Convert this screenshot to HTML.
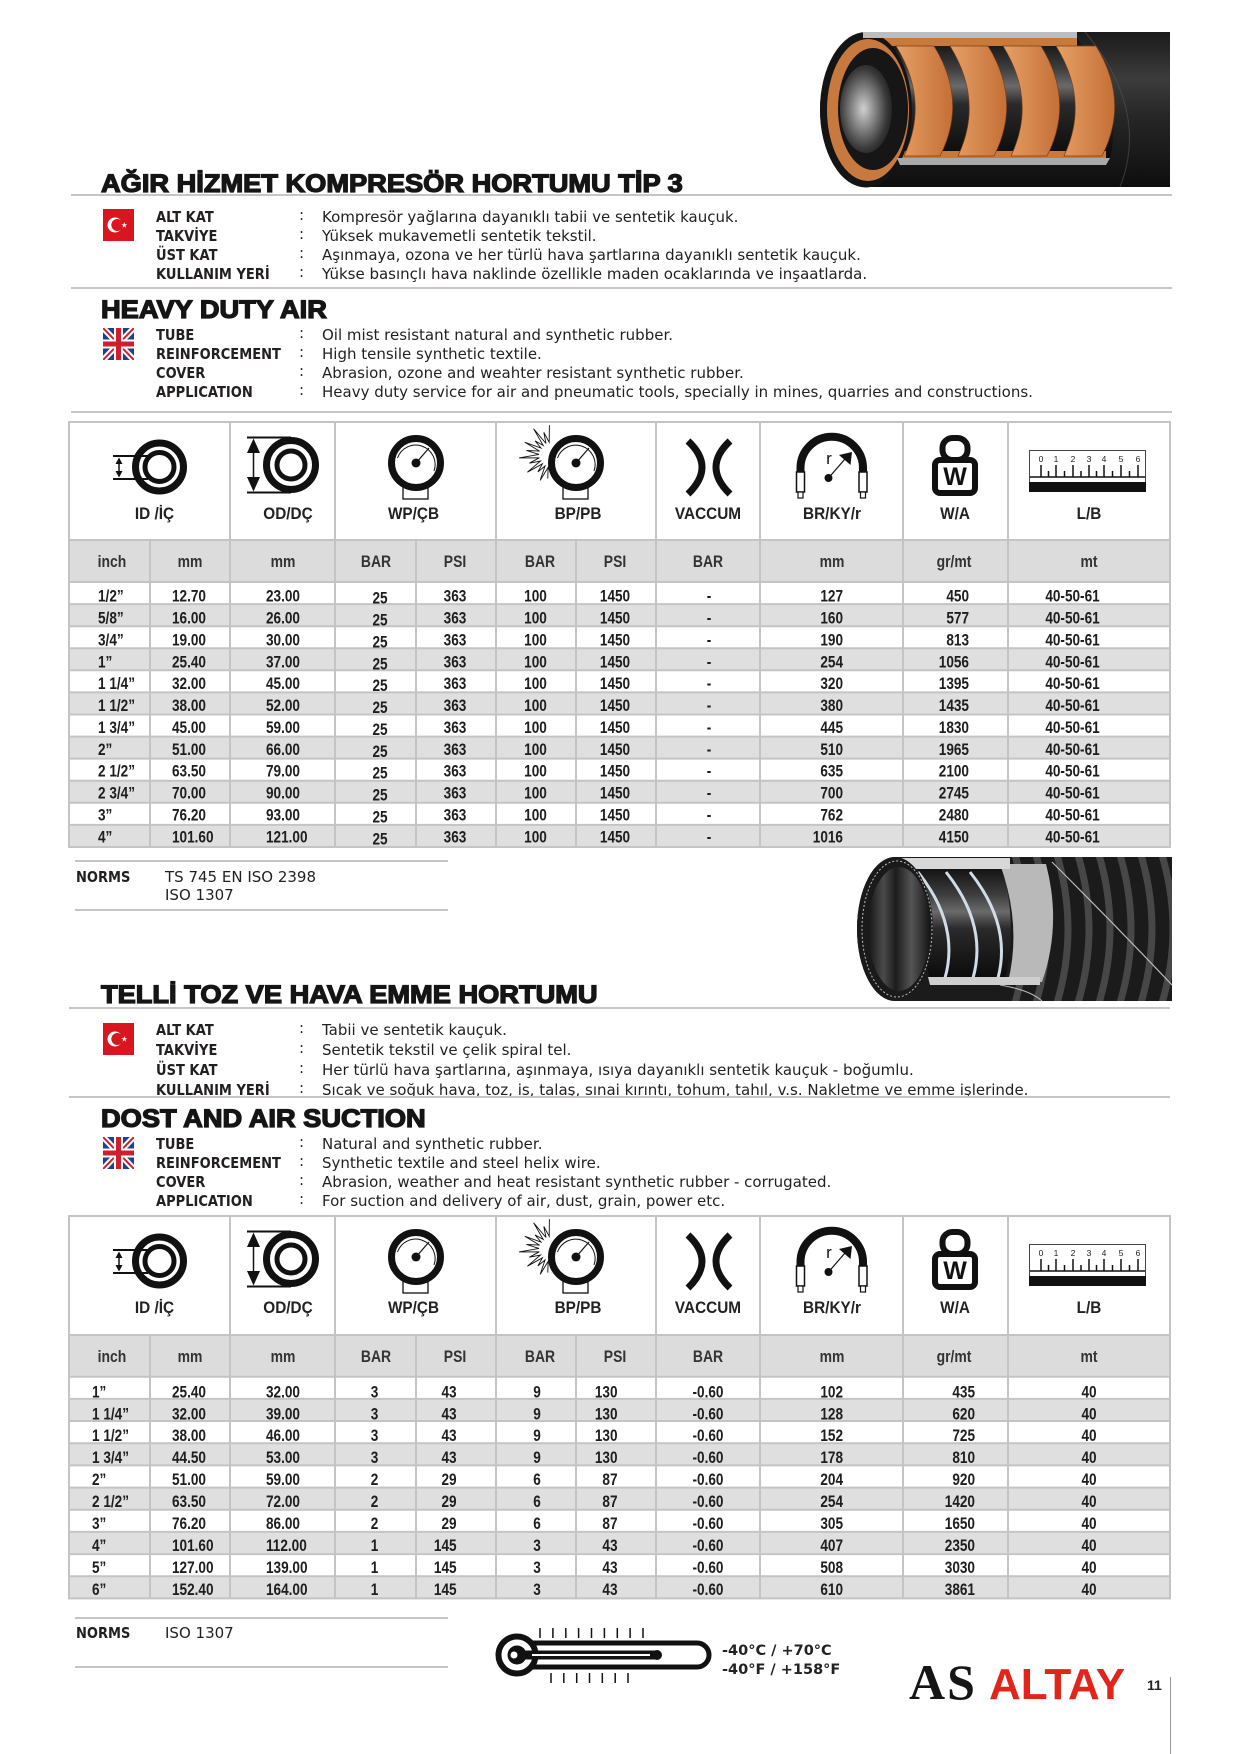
<!DOCTYPE html>
<html><head><meta charset="utf-8">
<style>
html,body{margin:0;padding:0;background:#fff}
svg{display:block}
.t{font-family:"Liberation Sans",Arial,sans-serif;font-weight:700;font-size:25px;fill:#151515;stroke:#151515;stroke-width:1.3px}
.l{font-family:"DejaVu Sans",sans-serif;font-weight:700;font-size:15px;fill:#231f20}
.b{font-family:"DejaVu Sans",sans-serif;font-size:15px;fill:#231f20}
.d{font-family:"Liberation Sans",Arial,sans-serif;font-weight:700;font-size:17px;fill:#1e1e1e}
.h{font-family:"Liberation Sans",Arial,sans-serif;font-weight:700;font-size:17px;fill:#333}
.i{font-family:"Liberation Sans",Arial,sans-serif;font-weight:700;font-size:16.5px;fill:#222}
.tm{font-family:"DejaVu Sans",sans-serif;font-weight:700;font-size:14.5px;fill:#222}
</style></head>
<body>
<svg width="1240" height="1754" viewBox="0 0 1240 1754" xmlns="http://www.w3.org/2000/svg">
<defs>
<linearGradient id="hb" x1="0" y1="0" x2="0" y2="1"><stop offset="0" stop-color="#1a1a1a"/><stop offset=".3" stop-color="#3c3c3c"/><stop offset=".55" stop-color="#262626"/><stop offset="1" stop-color="#0e0e0e"/></linearGradient>
<linearGradient id="tb" x1="0" y1="0" x2="0" y2="1"><stop offset="0" stop-color="#0e0e0e"/><stop offset=".25" stop-color="#3d3d3d"/><stop offset=".4" stop-color="#6a6a6a"/><stop offset=".55" stop-color="#2a2a2a"/><stop offset="1" stop-color="#0a0a0a"/></linearGradient>
<linearGradient id="or" x1="0" y1="0" x2="1" y2="0"><stop offset="0" stop-color="#e6a066"/><stop offset="1" stop-color="#c46f36"/></linearGradient>
<radialGradient id="bore" cx=".45" cy=".5" r=".6"><stop offset="0" stop-color="#d0d0d0"/><stop offset=".35" stop-color="#8a8a8a"/><stop offset=".75" stop-color="#3a3a3a"/><stop offset="1" stop-color="#1a1a1a"/></radialGradient>
<linearGradient id="bore2" x1="0" y1="0" x2="1" y2="0"><stop offset="0" stop-color="#151515"/><stop offset=".25" stop-color="#4a4a4a"/><stop offset=".45" stop-color="#1c1c1c"/><stop offset=".7" stop-color="#555"/><stop offset="1" stop-color="#151515"/></linearGradient>
<clipPath id="ukc"><rect x="103" y="328" width="31" height="32"/></clipPath>
<clipPath id="h2c"><path d="M895 857 H1172 V1001 H895 A38 72 0 0 1 895 857 Z"/></clipPath>
<g id="trf">
<rect x="103" y="209" width="31" height="32" fill="#d9161f"/>
<circle cx="115" cy="225" r="7.5" fill="#fff"/>
<circle cx="117.3" cy="225" r="6" fill="#d9161f"/>
<polygon points="124.3,222 125,224.2 127.2,224.2 125.4,225.5 126.1,227.7 124.3,226.3 122.5,227.7 123.2,225.5 121.4,224.2 123.6,224.2" fill="#fff"/>
</g>
<g id="ukf">
<rect x="103" y="328" width="31" height="32" fill="#213f8c"/>
<g clip-path="url(#ukc)">
<path d="M103 328 L134 360 M134 328 L103 360" stroke="#fff" stroke-width="6"/>
<path d="M103 328 L134 360 M134 328 L103 360" stroke="#cf1f2e" stroke-width="2"/>
<path d="M118.5 328 V360 M103 344 H134" stroke="#fff" stroke-width="9"/>
<path d="M118.5 328 V360 M103 344 H134" stroke="#cf1f2e" stroke-width="5"/>
</g>
</g>
<g id="icons">
<g fill="none" stroke="#111">
<circle cx="159.5" cy="467" r="24" stroke-width="7"/>
<circle cx="159.5" cy="467" r="14.5" stroke-width="5"/>
<line x1="113" y1="456" x2="148" y2="456" stroke-width="2"/>
<line x1="113" y1="479" x2="148" y2="479" stroke-width="2"/>
<line x1="119" y1="459" x2="119" y2="476" stroke-width="1.5"/>
</g>
<polygon points="115.5,464 122.5,464 119,457.5" fill="#111"/>
<polygon points="115.5,471 122.5,471 119,477.5" fill="#111"/>
<g fill="none" stroke="#111">
<circle cx="291" cy="465" r="24.5" stroke-width="7"/>
<circle cx="291" cy="465" r="14" stroke-width="5"/>
<line x1="247" y1="437.5" x2="291" y2="437.5" stroke-width="2"/>
<line x1="247" y1="492.5" x2="291" y2="492.5" stroke-width="2"/>
<line x1="253.5" y1="445" x2="253.5" y2="485" stroke-width="1.5"/>
</g>
<polygon points="247,453 260,453 253.5,438.5" fill="#111"/>
<polygon points="247,477 260,477 253.5,491.5" fill="#111"/>
<rect x="403" y="484" width="25" height="15" fill="#fff" stroke="#111" stroke-width="1.3"/>
<circle cx="416" cy="463" r="24.5" fill="#fff" stroke="#111" stroke-width="7"/>
<path d="M397.5 458 A19 19 0 1 1 434 471" fill="none" stroke="#111" stroke-width="1"/>
<line x1="416" y1="463" x2="429" y2="448" stroke="#111" stroke-width="1.2"/>
<circle cx="416" cy="463" r="4.5" fill="#111"/>
<polyline points="549.4,425.1 549.2,442.3 543.8,432.4 546,443.5 533.6,428.8 543.2,445.4 535.1,440.9 541,448 524.8,442.3 539.6,451.1 526.4,450.5 539,454.4 519.1,457.9 539.3,457.8 529.4,463.2 540.5,461 527.4,472.2 542.4,463.8 537.9,471.9 545,466 540.2,480.4 548.1,467.4 547.8,478.6" fill="#fff" stroke="#111" stroke-width=".9"/>
<rect x="563" y="484" width="25" height="15" fill="#fff" stroke="#111" stroke-width="1.3"/>
<circle cx="576" cy="463" r="24.5" fill="#fff" stroke="#111" stroke-width="7"/>
<path d="M557.5 458 A19 19 0 1 1 594 471" fill="none" stroke="#111" stroke-width="1"/>
<line x1="576" y1="463" x2="589" y2="448" stroke="#111" stroke-width="1.2"/>
<circle cx="576" cy="463" r="4.5" fill="#111"/>
<path d="M688 441 Q716 467 688 494 M730 441 Q702 467 730 494" fill="none" stroke="#111" stroke-width="7"/>
<path d="M800.5 473 V468 A31.25 31.25 0 0 1 863 468 V473" fill="none" stroke="#111" stroke-width="8"/>
<rect x="796.5" y="472" width="8" height="20" fill="#fff" stroke="#111" stroke-width="1.5"/>
<rect x="859" y="472" width="8" height="20" fill="#fff" stroke="#111" stroke-width="1.5"/>
<rect x="798" y="492" width="5" height="6" fill="#fff" stroke="#111" stroke-width="1.2"/>
<rect x="860.5" y="492" width="5" height="6" fill="#fff" stroke="#111" stroke-width="1.2"/>
<circle cx="828.5" cy="478" r="4" fill="#111"/>
<line x1="828.5" y1="478" x2="845" y2="459" stroke="#111" stroke-width="1.2"/>
<polygon points="839,455 852,452 850.5,465" fill="#111"/>
<rect x="942.5" y="438" width="25" height="22" rx="10" fill="#fff" stroke="#111" stroke-width="6"/>
<rect x="935" y="460" width="40" height="33" rx="5" fill="#fff" stroke="#111" stroke-width="6"/>
<rect x="1029.5" y="450.5" width="116" height="41" fill="#fff" stroke="#444" stroke-width="1"/>
<g stroke="#111" stroke-width="1.5">
<line x1="1041" y1="465" x2="1041" y2="477"/><line x1="1048.5" y1="471" x2="1048.5" y2="477"/>
<line x1="1056" y1="465" x2="1056" y2="477"/><line x1="1064.5" y1="471" x2="1064.5" y2="477"/>
<line x1="1073" y1="465" x2="1073" y2="477"/><line x1="1081" y1="471" x2="1081" y2="477"/>
<line x1="1089" y1="465" x2="1089" y2="477"/><line x1="1096.5" y1="471" x2="1096.5" y2="477"/>
<line x1="1104" y1="465" x2="1104" y2="477"/><line x1="1112.5" y1="471" x2="1112.5" y2="477"/>
<line x1="1121" y1="465" x2="1121" y2="477"/><line x1="1129.5" y1="471" x2="1129.5" y2="477"/>
<line x1="1138" y1="465" x2="1138" y2="477"/>
<line x1="1030" y1="477" x2="1145" y2="477"/>
</g>
<rect x="1029" y="482" width="117" height="10" fill="#111"/>
</g>
</defs>

<!-- HOSE 1 -->
<path d="M866 32 H1170 V187 H866 A46 77.5 0 0 1 866 32 Z" fill="url(#hb)"/>
<path d="M1085 32 Q1150 110 1120 187" fill="none" stroke="#555" stroke-width="1" opacity=".6"/>
<path d="M866 38 L1077 38 Q1125 100 1110 158 L880 158 Z" fill="url(#tb)"/>
<rect x="866" y="38" width="211" height="8" fill="#c8793c"/>
<rect x="880" y="151" width="226" height="7" fill="#c8793c"/>
<ellipse cx="866" cy="110" rx="46" ry="77.5" fill="#141414"/>
<ellipse cx="868" cy="110" rx="41" ry="71" fill="#c87a3e"/>
<ellipse cx="873" cy="109" rx="35" ry="61" fill="#161616"/>
<ellipse cx="866" cy="109" rx="26" ry="44" fill="url(#bore)"/>
<g fill="url(#or)" stroke="#7a3e18" stroke-width=".7">
<path d="M896 46 Q930 101 904 156 L940 156 Q968 101 934 46 Z"/>
<path d="M950 46 Q984 101 958 156 L994 156 Q1022 101 988 46 Z"/>
<path d="M1003 46 Q1037 101 1011 156 L1047 156 Q1075 101 1041 46 Z"/>
<path d="M1056 46 Q1090 101 1064 156 L1102 156 Q1130 101 1096 46 Z"/>
</g>
<rect x="863" y="32" width="214" height="6" fill="#bdbdbd"/>
<polygon points="897,158 1110,158 1106,165 900,165" fill="#a9a9a9"/>

<!-- HOSE 2 -->
<path d="M895 857 H1172 V1001 H895 A38 72 0 0 1 895 857 Z" fill="#1b1b1b"/>
<g clip-path="url(#h2c)" fill="none" stroke="#4f4f4f" stroke-width="7" opacity=".85">
<path d="M1015 855 Q1037 929 1015 1003"/><path d="M1036 855 Q1058 929 1036 1003"/>
<path d="M1057 855 Q1079 929 1057 1003"/><path d="M1078 855 Q1100 929 1078 1003"/>
<path d="M1099 855 Q1121 929 1099 1003"/><path d="M1120 855 Q1142 929 1120 1003"/>
<path d="M1141 855 Q1163 929 1141 1003"/><path d="M1162 855 Q1184 929 1162 1003"/>
</g>
<path d="M905 866 L1002 866 Q1018 925 1005 980 L930 980 Z" fill="url(#tb)"/>
<path d="M1000 864 L1046 864 Q1062 925 1042 982 L1008 982 Q1022 925 1000 864 Z" fill="#b9b9b9"/>
<g fill="none" stroke="#d0dde8" stroke-width="3">
<path d="M918 872 Q960 925 945 978"/><path d="M946 872 Q988 925 973 978"/><path d="M970 872 Q1012 925 998 978"/>
</g>
<polygon points="898,858 1010,858 1010,869 900,869" fill="#d8d8d8"/>
<polygon points="928,977 1040,977 1040,985 930,985" fill="#cfcfcf"/>
<ellipse cx="895" cy="929" rx="38" ry="72" fill="#1a1a1a"/>
<ellipse cx="899" cy="929" rx="31" ry="62" fill="url(#bore2)"/>
<ellipse cx="897" cy="929" rx="35" ry="68" fill="none" stroke="#bbb" stroke-width="1" stroke-dasharray="2 2"/>
<path d="M1052 862 Q1120 930 1172 985" fill="none" stroke="#bbb" stroke-width="1.2"/>
<path d="M1000 985 Q1030 990 1042 1001" fill="none" stroke="#bbb" stroke-width="1"/>

<!-- SECTION 1 TEXT -->
<g transform="translate(101,192) scale(1.09,1)"><text class="t" x="0" y="0">AĞIR HİZMET KOMPRESÖR HORTUMU TİP 3</text></g>
<use href="#trf"/>
<g transform="translate(156,0) scale(.87,1)"><text class="l"><tspan x="0" y="222">ALT KAT</tspan><tspan x="0" y="241">TAKVİYE</tspan><tspan x="0" y="260">ÜST KAT</tspan><tspan x="0" y="279">KULLANIM YERİ</tspan></text></g>
<text class="b"><tspan x="299" y="220">:</tspan><tspan x="299" y="239">:</tspan><tspan x="299" y="258">:</tspan><tspan x="299" y="277">:</tspan></text>
<text class="b"><tspan x="322" y="222">Kompresör yağlarına dayanıklı tabii ve sentetik kauçuk.</tspan><tspan x="322" y="241">Yüksek mukavemetli sentetik tekstil.</tspan><tspan x="322" y="260">Aşınmaya, ozona ve her türlü hava şartlarına dayanıklı sentetik kauçuk.</tspan><tspan x="322" y="279">Yükse basınçlı hava naklinde özellikle maden ocaklarında ve inşaatlarda.</tspan></text>

<g transform="translate(101,318) scale(1.09,1)"><text class="t" x="0" y="0">HEAVY DUTY AIR</text></g>
<use href="#ukf"/>
<g transform="translate(156,0) scale(.87,1)"><text class="l"><tspan x="0" y="340">TUBE</tspan><tspan x="0" y="359">REINFORCEMENT</tspan><tspan x="0" y="378">COVER</tspan><tspan x="0" y="397">APPLICATION</tspan></text></g>
<text class="b"><tspan x="299" y="338">:</tspan><tspan x="299" y="357">:</tspan><tspan x="299" y="376">:</tspan><tspan x="299" y="395">:</tspan></text>
<text class="b"><tspan x="322" y="340">Oil mist resistant natural and synthetic rubber.</tspan><tspan x="322" y="359">High tensile synthetic textile.</tspan><tspan x="322" y="378">Abrasion, ozone and weahter resistant synthetic rubber.</tspan><tspan x="322" y="397">Heavy duty service for air and pneumatic tools, specially in mines, quarries and constructions.</tspan></text>

<g stroke="#c6c6c6" stroke-width="2">
<line x1="71" y1="195" x2="1172" y2="195"/>
<line x1="71" y1="288" x2="1172" y2="288"/>
<line x1="71" y1="412" x2="1172" y2="412"/>
<line x1="75" y1="861" x2="448" y2="861"/>
<line x1="75" y1="910" x2="448" y2="910"/>
</g>

<!-- TABLE 1 -->
<rect x="69" y="540" width="1101" height="42" fill="#dcdcdc"/>
<g fill="#dfdfdf">
<rect x="69" y="604.1" width="1101" height="22.1"/><rect x="69" y="648.2" width="1101" height="22.1"/>
<rect x="69" y="692.4" width="1101" height="22.1"/><rect x="69" y="736.6" width="1101" height="22"/>
<rect x="69" y="780.7" width="1101" height="22.1"/><rect x="69" y="824.9" width="1101" height="22.1"/>
</g>
<g stroke="#c4c4c4" stroke-width="2">
<line x1="69" y1="540" x2="1170" y2="540"/><line x1="69" y1="582" x2="1170" y2="582"/>
<line x1="69" y1="604.1" x2="1170" y2="604.1"/><line x1="69" y1="626.2" x2="1170" y2="626.2"/>
<line x1="69" y1="648.2" x2="1170" y2="648.2"/><line x1="69" y1="670.3" x2="1170" y2="670.3"/>
<line x1="69" y1="692.4" x2="1170" y2="692.4"/><line x1="69" y1="714.5" x2="1170" y2="714.5"/>
<line x1="69" y1="736.6" x2="1170" y2="736.6"/><line x1="69" y1="758.6" x2="1170" y2="758.6"/>
<line x1="69" y1="780.7" x2="1170" y2="780.7"/><line x1="69" y1="802.8" x2="1170" y2="802.8"/>
<line x1="69" y1="824.9" x2="1170" y2="824.9"/>
<line x1="230" y1="422" x2="230" y2="847"/><line x1="335" y1="422" x2="335" y2="847"/>
<line x1="496" y1="422" x2="496" y2="847"/><line x1="656" y1="422" x2="656" y2="847"/>
<line x1="760" y1="422" x2="760" y2="847"/><line x1="903" y1="422" x2="903" y2="847"/>
<line x1="1008" y1="422" x2="1008" y2="847"/>
<line x1="150" y1="540" x2="150" y2="847"/><line x1="416" y1="540" x2="416" y2="847"/>
<line x1="576" y1="540" x2="576" y2="847"/>
<rect x="69" y="422" width="1101" height="425" fill="none"/>
</g>
<use href="#icons"/>
<text x="955" y="485" text-anchor="middle" font-family="Liberation Sans, Arial, sans-serif" font-weight="700" font-size="25" fill="#111">W</text>
<text x="829" y="464" text-anchor="middle" font-family="Liberation Sans, Arial, sans-serif" font-size="17" fill="#111">r</text>
<g font-family="Liberation Sans, Arial, sans-serif" font-size="8.5" fill="#222" text-anchor="middle">
<text x="1041" y="462">0</text><text x="1056" y="462">1</text><text x="1073" y="462">2</text><text x="1089" y="462">3</text><text x="1104" y="462">4</text><text x="1121" y="462">5</text><text x="1138" y="462">6</text>
</g>
<g class="i" text-anchor="middle">
<text transform="translate(154.5,519) scale(.93,1)">ID /İÇ</text>
<text transform="translate(288,519) scale(.93,1)">OD/DÇ</text>
<text transform="translate(413.5,519) scale(.93,1)">WP/ÇB</text>
<text transform="translate(578,519) scale(.93,1)">BP/PB</text>
<text transform="translate(708,519) scale(.93,1)">VACCUM</text>
<text transform="translate(832,519) scale(.93,1)">BR/KY/r</text>
<text transform="translate(955,519) scale(.93,1)">W/A</text>
<text transform="translate(1089,519) scale(.93,1)">L/B</text>
</g>
<g class="h" text-anchor="middle">
<text transform="translate(112,567) scale(.82,1)">inch</text>
<text transform="translate(190,567) scale(.82,1)">mm</text>
<text transform="translate(283,567) scale(.82,1)">mm</text>
<text transform="translate(376,567) scale(.82,1)">BAR</text>
<text transform="translate(455,567) scale(.82,1)">PSI</text>
<text transform="translate(540,567) scale(.82,1)">BAR</text>
<text transform="translate(615,567) scale(.82,1)">PSI</text>
<text transform="translate(708,567) scale(.82,1)">BAR</text>
<text transform="translate(832,567) scale(.82,1)">mm</text>
<text transform="translate(954,567) scale(.82,1)">gr/mt</text>
<text transform="translate(1089,567) scale(.82,1)">mt</text>
</g>
<g class="d">
<text transform="translate(98,0) scale(.8,1)"><tspan x="0" y="601.7">1/2”</tspan><tspan x="0" y="623.6">5/8”</tspan><tspan x="0" y="645.4">3/4”</tspan><tspan x="0" y="667.3">1”</tspan><tspan x="0" y="689.2">1 1/4”</tspan><tspan x="0" y="711.1">1 1/2”</tspan><tspan x="0" y="732.9">1 3/4”</tspan><tspan x="0" y="754.8">2”</tspan><tspan x="0" y="776.7">2 1/2”</tspan><tspan x="0" y="798.5">2 3/4”</tspan><tspan x="0" y="820.4">3”</tspan><tspan x="0" y="842.3">4”</tspan></text>
<text transform="translate(172,0) scale(.8,1)"><tspan x="0" y="601.7">12.70</tspan><tspan x="0" y="623.6">16.00</tspan><tspan x="0" y="645.4">19.00</tspan><tspan x="0" y="667.3">25.40</tspan><tspan x="0" y="689.2">32.00</tspan><tspan x="0" y="711.1">38.00</tspan><tspan x="0" y="732.9">45.00</tspan><tspan x="0" y="754.8">51.00</tspan><tspan x="0" y="776.7">63.50</tspan><tspan x="0" y="798.5">70.00</tspan><tspan x="0" y="820.4">76.20</tspan><tspan x="0" y="842.3">101.60</tspan></text>
<text transform="translate(266,0) scale(.8,1)"><tspan x="0" y="601.7">23.00</tspan><tspan x="0" y="623.6">26.00</tspan><tspan x="0" y="645.4">30.00</tspan><tspan x="0" y="667.3">37.00</tspan><tspan x="0" y="689.2">45.00</tspan><tspan x="0" y="711.1">52.00</tspan><tspan x="0" y="732.9">59.00</tspan><tspan x="0" y="754.8">66.00</tspan><tspan x="0" y="776.7">79.00</tspan><tspan x="0" y="798.5">90.00</tspan><tspan x="0" y="820.4">93.00</tspan><tspan x="0" y="842.3">121.00</tspan></text>
<text transform="translate(380,2) scale(.8,1)" text-anchor="middle"><tspan x="0" y="601.7">25</tspan><tspan x="0" y="623.6">25</tspan><tspan x="0" y="645.4">25</tspan><tspan x="0" y="667.3">25</tspan><tspan x="0" y="689.2">25</tspan><tspan x="0" y="711.1">25</tspan><tspan x="0" y="732.9">25</tspan><tspan x="0" y="754.8">25</tspan><tspan x="0" y="776.7">25</tspan><tspan x="0" y="798.5">25</tspan><tspan x="0" y="820.4">25</tspan><tspan x="0" y="842.3">25</tspan></text>
<text transform="translate(455,0) scale(.8,1)" text-anchor="middle"><tspan x="0" y="601.7">363</tspan><tspan x="0" y="623.6">363</tspan><tspan x="0" y="645.4">363</tspan><tspan x="0" y="667.3">363</tspan><tspan x="0" y="689.2">363</tspan><tspan x="0" y="711.1">363</tspan><tspan x="0" y="732.9">363</tspan><tspan x="0" y="754.8">363</tspan><tspan x="0" y="776.7">363</tspan><tspan x="0" y="798.5">363</tspan><tspan x="0" y="820.4">363</tspan><tspan x="0" y="842.3">363</tspan></text>
<text transform="translate(535.5,0) scale(.8,1)" text-anchor="middle"><tspan x="0" y="601.7">100</tspan><tspan x="0" y="623.6">100</tspan><tspan x="0" y="645.4">100</tspan><tspan x="0" y="667.3">100</tspan><tspan x="0" y="689.2">100</tspan><tspan x="0" y="711.1">100</tspan><tspan x="0" y="732.9">100</tspan><tspan x="0" y="754.8">100</tspan><tspan x="0" y="776.7">100</tspan><tspan x="0" y="798.5">100</tspan><tspan x="0" y="820.4">100</tspan><tspan x="0" y="842.3">100</tspan></text>
<text transform="translate(615,0) scale(.8,1)" text-anchor="middle"><tspan x="0" y="601.7">1450</tspan><tspan x="0" y="623.6">1450</tspan><tspan x="0" y="645.4">1450</tspan><tspan x="0" y="667.3">1450</tspan><tspan x="0" y="689.2">1450</tspan><tspan x="0" y="711.1">1450</tspan><tspan x="0" y="732.9">1450</tspan><tspan x="0" y="754.8">1450</tspan><tspan x="0" y="776.7">1450</tspan><tspan x="0" y="798.5">1450</tspan><tspan x="0" y="820.4">1450</tspan><tspan x="0" y="842.3">1450</tspan></text>
<text transform="translate(709,0) scale(.8,1)" text-anchor="middle"><tspan x="0" y="601.7">-</tspan><tspan x="0" y="623.6">-</tspan><tspan x="0" y="645.4">-</tspan><tspan x="0" y="667.3">-</tspan><tspan x="0" y="689.2">-</tspan><tspan x="0" y="711.1">-</tspan><tspan x="0" y="732.9">-</tspan><tspan x="0" y="754.8">-</tspan><tspan x="0" y="776.7">-</tspan><tspan x="0" y="798.5">-</tspan><tspan x="0" y="820.4">-</tspan><tspan x="0" y="842.3">-</tspan></text>
<text transform="translate(843,0) scale(.8,1)" text-anchor="end"><tspan x="0" y="601.7">127</tspan><tspan x="0" y="623.6">160</tspan><tspan x="0" y="645.4">190</tspan><tspan x="0" y="667.3">254</tspan><tspan x="0" y="689.2">320</tspan><tspan x="0" y="711.1">380</tspan><tspan x="0" y="732.9">445</tspan><tspan x="0" y="754.8">510</tspan><tspan x="0" y="776.7">635</tspan><tspan x="0" y="798.5">700</tspan><tspan x="0" y="820.4">762</tspan><tspan x="0" y="842.3">1016</tspan></text>
<text transform="translate(969,0) scale(.8,1)" text-anchor="end"><tspan x="0" y="601.7">450</tspan><tspan x="0" y="623.6">577</tspan><tspan x="0" y="645.4">813</tspan><tspan x="0" y="667.3">1056</tspan><tspan x="0" y="689.2">1395</tspan><tspan x="0" y="711.1">1435</tspan><tspan x="0" y="732.9">1830</tspan><tspan x="0" y="754.8">1965</tspan><tspan x="0" y="776.7">2100</tspan><tspan x="0" y="798.5">2745</tspan><tspan x="0" y="820.4">2480</tspan><tspan x="0" y="842.3">4150</tspan></text>
<text transform="translate(1072.5,0) scale(.8,1)" text-anchor="middle"><tspan x="0" y="601.7">40-50-61</tspan><tspan x="0" y="623.6">40-50-61</tspan><tspan x="0" y="645.4">40-50-61</tspan><tspan x="0" y="667.3">40-50-61</tspan><tspan x="0" y="689.2">40-50-61</tspan><tspan x="0" y="711.1">40-50-61</tspan><tspan x="0" y="732.9">40-50-61</tspan><tspan x="0" y="754.8">40-50-61</tspan><tspan x="0" y="776.7">40-50-61</tspan><tspan x="0" y="798.5">40-50-61</tspan><tspan x="0" y="820.4">40-50-61</tspan><tspan x="0" y="842.3">40-50-61</tspan></text>
</g>

<g transform="translate(76,882) scale(.87,1)"><text class="l" x="0" y="0">NORMS</text></g>
<text class="b"><tspan x="165" y="882">TS 745 EN ISO 2398</tspan><tspan x="165" y="900">ISO 1307</tspan></text>

<!-- SECTION 2 TEXT -->
<g transform="translate(101,1003) scale(1.09,1)"><text class="t" x="0" y="0">TELLİ TOZ VE HAVA EMME HORTUMU</text></g>
<use href="#trf" transform="translate(0,814)"/>
<g transform="translate(156,0) scale(.87,1)"><text class="l"><tspan x="0" y="1035">ALT KAT</tspan><tspan x="0" y="1055">TAKVİYE</tspan><tspan x="0" y="1075">ÜST KAT</tspan><tspan x="0" y="1095">KULLANIM YERİ</tspan></text></g>
<text class="b"><tspan x="299" y="1033">:</tspan><tspan x="299" y="1053">:</tspan><tspan x="299" y="1073">:</tspan><tspan x="299" y="1093">:</tspan></text>
<text class="b"><tspan x="322" y="1035">Tabii ve sentetik kauçuk.</tspan><tspan x="322" y="1055">Sentetik tekstil ve çelik spiral tel.</tspan><tspan x="322" y="1075">Her türlü hava şartlarına, aşınmaya, ısıya dayanıklı sentetik kauçuk - boğumlu.</tspan><tspan x="322" y="1095">Sıcak ve soğuk hava, toz, is, talaş, sınai kırıntı, tohum, tahıl, v.s. Nakletme ve emme işlerinde.</tspan></text>

<g transform="translate(101,1127) scale(1.09,1)"><text class="t" x="0" y="0">DOST AND AIR SUCTION</text></g>
<use href="#ukf" transform="translate(0,809)"/>
<g transform="translate(156,0) scale(.87,1)"><text class="l"><tspan x="0" y="1149">TUBE</tspan><tspan x="0" y="1168">REINFORCEMENT</tspan><tspan x="0" y="1187">COVER</tspan><tspan x="0" y="1206">APPLICATION</tspan></text></g>
<text class="b"><tspan x="299" y="1147">:</tspan><tspan x="299" y="1166">:</tspan><tspan x="299" y="1185">:</tspan><tspan x="299" y="1204">:</tspan></text>
<text class="b"><tspan x="322" y="1149">Natural and synthetic rubber.</tspan><tspan x="322" y="1168">Synthetic textile and steel helix wire.</tspan><tspan x="322" y="1187">Abrasion, weather and heat resistant synthetic rubber - corrugated.</tspan><tspan x="322" y="1206">For suction and delivery of air, dust, grain, power etc.</tspan></text>

<g stroke="#c6c6c6" stroke-width="2">
<line x1="69" y1="1008" x2="1170" y2="1008"/>
<line x1="69" y1="1097" x2="1170" y2="1097"/>
<line x1="75" y1="1618" x2="448" y2="1618"/>
<line x1="75" y1="1667" x2="448" y2="1667"/>
</g>

<!-- TABLE 2 -->
<rect x="69" y="1335" width="1101" height="41.7" fill="#dcdcdc"/>
<g fill="#dfdfdf">
<rect x="69" y="1398.9" width="1101" height="22.1"/><rect x="69" y="1443.2" width="1101" height="22.2"/>
<rect x="69" y="1487.6" width="1101" height="22.1"/><rect x="69" y="1531.9" width="1101" height="22.2"/>
<rect x="69" y="1576.2" width="1101" height="22.2"/>
</g>
<g stroke="#c4c4c4" stroke-width="2">
<line x1="69" y1="1335" x2="1170" y2="1335"/><line x1="69" y1="1376.7" x2="1170" y2="1376.7"/>
<line x1="69" y1="1398.9" x2="1170" y2="1398.9"/><line x1="69" y1="1421" x2="1170" y2="1421"/>
<line x1="69" y1="1443.2" x2="1170" y2="1443.2"/><line x1="69" y1="1465.4" x2="1170" y2="1465.4"/>
<line x1="69" y1="1487.6" x2="1170" y2="1487.6"/><line x1="69" y1="1509.7" x2="1170" y2="1509.7"/>
<line x1="69" y1="1531.9" x2="1170" y2="1531.9"/><line x1="69" y1="1554.1" x2="1170" y2="1554.1"/>
<line x1="69" y1="1576.2" x2="1170" y2="1576.2"/>
<line x1="230" y1="1216" x2="230" y2="1598.4"/><line x1="335" y1="1216" x2="335" y2="1598.4"/>
<line x1="496" y1="1216" x2="496" y2="1598.4"/><line x1="656" y1="1216" x2="656" y2="1598.4"/>
<line x1="760" y1="1216" x2="760" y2="1598.4"/><line x1="903" y1="1216" x2="903" y2="1598.4"/>
<line x1="1008" y1="1216" x2="1008" y2="1598.4"/>
<line x1="150" y1="1335" x2="150" y2="1598.4"/><line x1="416" y1="1335" x2="416" y2="1598.4"/>
<line x1="576" y1="1335" x2="576" y2="1598.4"/>
<rect x="69" y="1216" width="1101" height="382.4" fill="none"/>
</g>
<use href="#icons" transform="translate(0,794)"/>
<text x="955" y="1279" text-anchor="middle" font-family="Liberation Sans, Arial, sans-serif" font-weight="700" font-size="25" fill="#111">W</text>
<text x="829" y="1258" text-anchor="middle" font-family="Liberation Sans, Arial, sans-serif" font-size="17" fill="#111">r</text>
<g font-family="Liberation Sans, Arial, sans-serif" font-size="8.5" fill="#222" text-anchor="middle">
<text x="1041" y="1256">0</text><text x="1056" y="1256">1</text><text x="1073" y="1256">2</text><text x="1089" y="1256">3</text><text x="1104" y="1256">4</text><text x="1121" y="1256">5</text><text x="1138" y="1256">6</text>
</g>
<g class="i" text-anchor="middle">
<text transform="translate(154.5,1313) scale(.93,1)">ID /İÇ</text>
<text transform="translate(288,1313) scale(.93,1)">OD/DÇ</text>
<text transform="translate(413.5,1313) scale(.93,1)">WP/ÇB</text>
<text transform="translate(578,1313) scale(.93,1)">BP/PB</text>
<text transform="translate(708,1313) scale(.93,1)">VACCUM</text>
<text transform="translate(832,1313) scale(.93,1)">BR/KY/r</text>
<text transform="translate(955,1313) scale(.93,1)">W/A</text>
<text transform="translate(1089,1313) scale(.93,1)">L/B</text>
</g>
<g class="h" text-anchor="middle">
<text transform="translate(112,1362) scale(.82,1)">inch</text>
<text transform="translate(190,1362) scale(.82,1)">mm</text>
<text transform="translate(283,1362) scale(.82,1)">mm</text>
<text transform="translate(376,1362) scale(.82,1)">BAR</text>
<text transform="translate(455,1362) scale(.82,1)">PSI</text>
<text transform="translate(540,1362) scale(.82,1)">BAR</text>
<text transform="translate(615,1362) scale(.82,1)">PSI</text>
<text transform="translate(708,1362) scale(.82,1)">BAR</text>
<text transform="translate(832,1362) scale(.82,1)">mm</text>
<text transform="translate(954,1362) scale(.82,1)">gr/mt</text>
<text transform="translate(1089,1362) scale(.82,1)">mt</text>
</g>
<g class="d">
<text transform="translate(92,0) scale(.8,1)"><tspan x="0" y="1397.3">1”</tspan><tspan x="0" y="1419.3">1 1/4”</tspan><tspan x="0" y="1441.2">1 1/2”</tspan><tspan x="0" y="1463.2">1 3/4”</tspan><tspan x="0" y="1485.2">2”</tspan><tspan x="0" y="1507.1">2 1/2”</tspan><tspan x="0" y="1529.1">3”</tspan><tspan x="0" y="1551.1">4”</tspan><tspan x="0" y="1573.1">5”</tspan><tspan x="0" y="1595">6”</tspan></text>
<text transform="translate(172,0) scale(.8,1)"><tspan x="0" y="1397.3">25.40</tspan><tspan x="0" y="1419.3">32.00</tspan><tspan x="0" y="1441.2">38.00</tspan><tspan x="0" y="1463.2">44.50</tspan><tspan x="0" y="1485.2">51.00</tspan><tspan x="0" y="1507.1">63.50</tspan><tspan x="0" y="1529.1">76.20</tspan><tspan x="0" y="1551.1">101.60</tspan><tspan x="0" y="1573.1">127.00</tspan><tspan x="0" y="1595">152.40</tspan></text>
<text transform="translate(266,0) scale(.8,1)"><tspan x="0" y="1397.3">32.00</tspan><tspan x="0" y="1419.3">39.00</tspan><tspan x="0" y="1441.2">46.00</tspan><tspan x="0" y="1463.2">53.00</tspan><tspan x="0" y="1485.2">59.00</tspan><tspan x="0" y="1507.1">72.00</tspan><tspan x="0" y="1529.1">86.00</tspan><tspan x="0" y="1551.1">112.00</tspan><tspan x="0" y="1573.1">139.00</tspan><tspan x="0" y="1595">164.00</tspan></text>
<text transform="translate(374.5,0) scale(.8,1)" text-anchor="middle"><tspan x="0" y="1397.3">3</tspan><tspan x="0" y="1419.3">3</tspan><tspan x="0" y="1441.2">3</tspan><tspan x="0" y="1463.2">3</tspan><tspan x="0" y="1485.2">2</tspan><tspan x="0" y="1507.1">2</tspan><tspan x="0" y="1529.1">2</tspan><tspan x="0" y="1551.1">1</tspan><tspan x="0" y="1573.1">1</tspan><tspan x="0" y="1595">1</tspan></text>
<text transform="translate(456.6,0) scale(.8,1)" text-anchor="end"><tspan x="0" y="1397.3">43</tspan><tspan x="0" y="1419.3">43</tspan><tspan x="0" y="1441.2">43</tspan><tspan x="0" y="1463.2">43</tspan><tspan x="0" y="1485.2">29</tspan><tspan x="0" y="1507.1">29</tspan><tspan x="0" y="1529.1">29</tspan><tspan x="0" y="1551.1">145</tspan><tspan x="0" y="1573.1">145</tspan><tspan x="0" y="1595">145</tspan></text>
<text transform="translate(537,0) scale(.8,1)" text-anchor="middle"><tspan x="0" y="1397.3">9</tspan><tspan x="0" y="1419.3">9</tspan><tspan x="0" y="1441.2">9</tspan><tspan x="0" y="1463.2">9</tspan><tspan x="0" y="1485.2">6</tspan><tspan x="0" y="1507.1">6</tspan><tspan x="0" y="1529.1">6</tspan><tspan x="0" y="1551.1">3</tspan><tspan x="0" y="1573.1">3</tspan><tspan x="0" y="1595">3</tspan></text>
<text transform="translate(617.5,0) scale(.8,1)" text-anchor="end"><tspan x="0" y="1397.3">130</tspan><tspan x="0" y="1419.3">130</tspan><tspan x="0" y="1441.2">130</tspan><tspan x="0" y="1463.2">130</tspan><tspan x="0" y="1485.2">87</tspan><tspan x="0" y="1507.1">87</tspan><tspan x="0" y="1529.1">87</tspan><tspan x="0" y="1551.1">43</tspan><tspan x="0" y="1573.1">43</tspan><tspan x="0" y="1595">43</tspan></text>
<text transform="translate(708,0) scale(.8,1)" text-anchor="middle"><tspan x="0" y="1397.3">-0.60</tspan><tspan x="0" y="1419.3">-0.60</tspan><tspan x="0" y="1441.2">-0.60</tspan><tspan x="0" y="1463.2">-0.60</tspan><tspan x="0" y="1485.2">-0.60</tspan><tspan x="0" y="1507.1">-0.60</tspan><tspan x="0" y="1529.1">-0.60</tspan><tspan x="0" y="1551.1">-0.60</tspan><tspan x="0" y="1573.1">-0.60</tspan><tspan x="0" y="1595">-0.60</tspan></text>
<text transform="translate(843,0) scale(.8,1)" text-anchor="end"><tspan x="0" y="1397.3">102</tspan><tspan x="0" y="1419.3">128</tspan><tspan x="0" y="1441.2">152</tspan><tspan x="0" y="1463.2">178</tspan><tspan x="0" y="1485.2">204</tspan><tspan x="0" y="1507.1">254</tspan><tspan x="0" y="1529.1">305</tspan><tspan x="0" y="1551.1">407</tspan><tspan x="0" y="1573.1">508</tspan><tspan x="0" y="1595">610</tspan></text>
<text transform="translate(975,0) scale(.8,1)" text-anchor="end"><tspan x="0" y="1397.3">435</tspan><tspan x="0" y="1419.3">620</tspan><tspan x="0" y="1441.2">725</tspan><tspan x="0" y="1463.2">810</tspan><tspan x="0" y="1485.2">920</tspan><tspan x="0" y="1507.1">1420</tspan><tspan x="0" y="1529.1">1650</tspan><tspan x="0" y="1551.1">2350</tspan><tspan x="0" y="1573.1">3030</tspan><tspan x="0" y="1595">3861</tspan></text>
<text transform="translate(1089,0) scale(.8,1)" text-anchor="middle"><tspan x="0" y="1397.3">40</tspan><tspan x="0" y="1419.3">40</tspan><tspan x="0" y="1441.2">40</tspan><tspan x="0" y="1463.2">40</tspan><tspan x="0" y="1485.2">40</tspan><tspan x="0" y="1507.1">40</tspan><tspan x="0" y="1529.1">40</tspan><tspan x="0" y="1551.1">40</tspan><tspan x="0" y="1573.1">40</tspan><tspan x="0" y="1595">40</tspan></text>
</g>

<g transform="translate(76,1638) scale(.87,1)"><text class="l" x="0" y="0">NORMS</text></g>
<text class="b" x="165" y="1638">ISO 1307</text>

<!-- Thermometer -->
<g stroke="#111" stroke-width="1.5">
<line x1="540" y1="1628" x2="540" y2="1638"/><line x1="552.9" y1="1628" x2="552.9" y2="1638"/><line x1="565.8" y1="1628" x2="565.8" y2="1638"/><line x1="578.6" y1="1628" x2="578.6" y2="1638"/><line x1="591.5" y1="1628" x2="591.5" y2="1638"/><line x1="604.4" y1="1628" x2="604.4" y2="1638"/><line x1="617.3" y1="1628" x2="617.3" y2="1638"/><line x1="630.1" y1="1628" x2="630.1" y2="1638"/><line x1="643" y1="1628" x2="643" y2="1638"/>
<line x1="551" y1="1673" x2="551" y2="1683"/><line x1="563.8" y1="1673" x2="563.8" y2="1683"/><line x1="576.7" y1="1673" x2="576.7" y2="1683"/><line x1="589.5" y1="1673" x2="589.5" y2="1683"/><line x1="602.3" y1="1673" x2="602.3" y2="1683"/><line x1="615.2" y1="1673" x2="615.2" y2="1683"/><line x1="628" y1="1673" x2="628" y2="1683"/>
</g>
<rect x="508" y="1643" width="201" height="24" rx="12" fill="#fff" stroke="#111" stroke-width="5"/>
<circle cx="517" cy="1655" r="18.5" fill="#fff" stroke="#111" stroke-width="6"/>
<rect x="517" y="1650.5" width="140" height="9" fill="#111"/>
<line x1="532" y1="1655" x2="650" y2="1655" stroke="#fff" stroke-width="2"/>
<circle cx="657" cy="1655" r="5" fill="#111"/>
<circle cx="517" cy="1655" r="9.5" fill="#111"/>
<circle cx="514" cy="1655" r="3.5" fill="#fff"/>
<text class="tm" x="722" y="1655">-40°C / +70°C</text>
<text class="tm" x="722" y="1674">-40°F / +158°F</text>

<!-- Logo -->
<text x="909" y="1699" font-family="Liberation Serif, serif" font-weight="700" font-size="50" letter-spacing="2" fill="#151515">AS</text>
<text x="989" y="1699" font-family="Liberation Sans, Arial, sans-serif" font-weight="700" font-size="44" fill="#e1251b">ALTAY</text>
<text x="1147" y="1690" font-family="Liberation Sans, Arial, sans-serif" font-weight="700" font-size="14" fill="#222">11</text>
<line x1="1170.5" y1="1677" x2="1170.5" y2="1754" stroke="#999" stroke-width="1"/>
</svg>
</body></html>
